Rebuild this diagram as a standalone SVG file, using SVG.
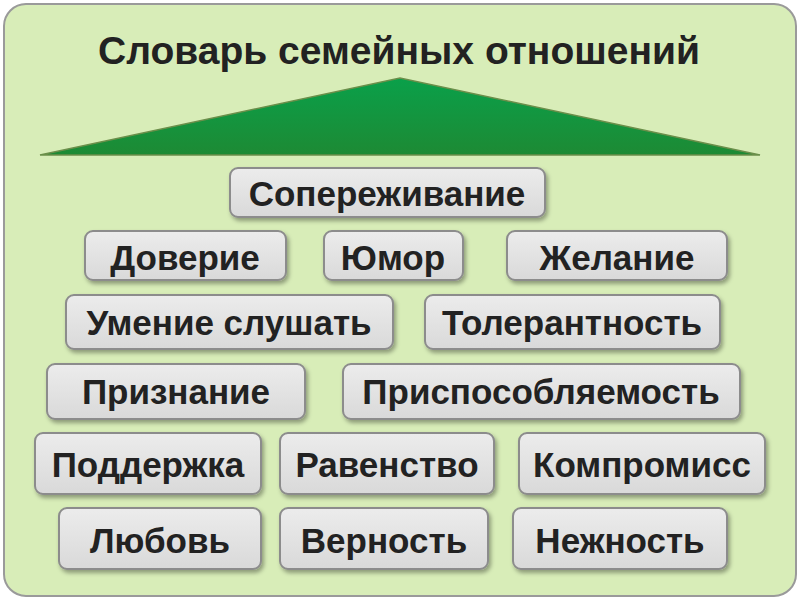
<svg xmlns="http://www.w3.org/2000/svg" width="800" height="600" viewBox="0 0 800 600">
<defs>
<linearGradient id="roof" x1="0" y1="0" x2="0" y2="1"><stop offset="0" stop-color="#0aa04a"/><stop offset="1" stop-color="#1d8a34"/></linearGradient>
<linearGradient id="box" x1="0" y1="0" x2="0" y2="1"><stop offset="0" stop-color="#ececec"/><stop offset="1" stop-color="#d9d9d9"/></linearGradient>
<filter id="sh" x="-10%" y="-10%" width="120%" height="130%"><feDropShadow dx="2" dy="3" stdDeviation="2" flood-color="#000" flood-opacity="0.35"/></filter>
</defs>
<style>
.b{fill:url(#box);stroke:#8c8c8c;stroke-width:2;filter:url(#sh)}
.t{font-family:"Liberation Sans",Arial,sans-serif;font-weight:bold;font-size:35px;fill:#222;text-anchor:middle;dominant-baseline:central}
</style>
<rect x="4" y="4" width="792" height="592" rx="22" fill="#d8edb8" stroke="#9a9a9a" stroke-width="2"/>
<text x="399" y="50" class="t" style="font-size:39px">Словарь семейных отношений</text>
<polygon points="40,155 400,78 760,155" fill="url(#roof)" stroke="#6b8f4a" stroke-width="1.5"/>
<g id="n1"><rect class="b" x="230" y="168" width="315" height="49" rx="8"/><text class="t" x="387" y="193">Сопереживание</text></g>
<g id="n2"><rect class="b" x="85" y="231" width="201" height="49" rx="8"/><text class="t" x="185" y="257">Доверие</text></g>
<g id="n3"><rect class="b" x="324" y="231" width="139" height="49" rx="8"/><text class="t" x="393" y="257">Юмор</text></g>
<g id="n4"><rect class="b" x="507" y="231" width="220" height="49" rx="8"/><text class="t" x="617" y="257">Желание</text></g>
<g id="n5"><rect class="b" x="66" y="295" width="327" height="54" rx="8"/><text class="t" x="229" y="322">Умение слушать</text></g>
<g id="n6"><rect class="b" x="425" y="295" width="295" height="54" rx="8"/><text class="t" x="572" y="322">Толерантность</text></g>
<g id="n7"><rect class="b" x="47" y="364" width="258" height="55" rx="8"/><text class="t" x="176" y="391">Признание</text></g>
<g id="n8"><rect class="b" x="343" y="364" width="397" height="55" rx="8"/><text class="t" x="541" y="391">Приспособляемость</text></g>
<g id="n9"><rect class="b" x="35" y="433" width="226" height="61" rx="8"/><text class="t" x="148" y="464">Поддержка</text></g>
<g id="n10"><rect class="b" x="280" y="433" width="214" height="61" rx="8"/><text class="t" x="387" y="464">Равенство</text></g>
<g id="n11"><rect class="b" x="519" y="433" width="246" height="61" rx="8"/><text class="t" x="642" y="464">Компромисс</text></g>
<g id="n12"><rect class="b" x="59" y="508" width="202" height="61" rx="8"/><text class="t" x="160" y="540">Любовь</text></g>
<g id="n13"><rect class="b" x="280" y="508" width="208" height="61" rx="8"/><text class="t" x="384" y="540">Верность</text></g>
<g id="n14"><rect class="b" x="513" y="508" width="214" height="61" rx="8"/><text class="t" x="620" y="540">Нежность</text></g>
<g id="connectors"/>
</svg>
